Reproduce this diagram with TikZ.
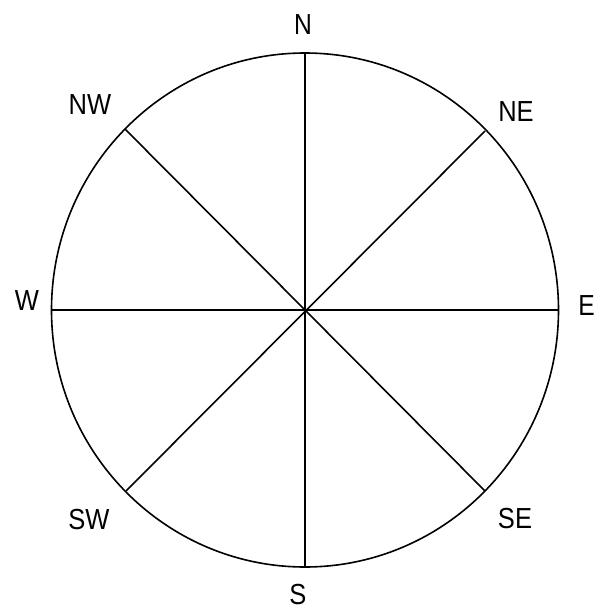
\documentclass[tikz,border=0pt]{standalone}
\usepackage{fontspec}
\setmainfont{Liberation Sans}
\begin{document}
\begin{tikzpicture}[x=1pt,y=-1pt,
  lbl/.style={inner sep=0pt,font=\fontsize{29}{31}\selectfont},
  spoke/.style={line width=1.6pt,black}]
\useasboundingbox (0,0) rectangle (596,611);
\coordinate (c) at (305,310);
\draw[spoke] (c) ellipse [x radius=253.5, y radius=257];
\coordinate (pN) at (305,53);
\coordinate (pS) at (305,567);
\coordinate (pE) at (558.5,310);
\coordinate (pW) at (51.5,310);
\coordinate (pNE) at (485,131);
\coordinate (pNW) at (125,129);
\coordinate (pSE) at (485,491);
\coordinate (pSW) at (126,491);
\draw[spoke] (pN) -- (pS);
\draw[spoke] (pE) -- (pW);
\draw[spoke] (pNE) -- (pSW);
\draw[spoke] (pNW) -- (pSE);
\node[lbl] (N) at (303,25) {\scalebox{0.85}[1]{N}};
\node[lbl] (NE) at (516,112) {\scalebox{0.88}[1]{NE}};
\node[lbl] (NW) at (90,105) {\scalebox{0.88}[1]{NW}};
\node[lbl] (W) at (27,301) {\scalebox{0.88}[1]{W}};
\node[lbl,anchor=east] (E) at (595,306) {\scalebox{0.85}[1]{E}};
\node[lbl] (S) at (298,595) {\scalebox{0.88}[1]{S}};
\node[lbl] (SW) at (89,520) {\scalebox{0.88}[1]{SW}};
\node[lbl] (SE) at (515,519) {\scalebox{0.88}[1]{SE}};
\end{tikzpicture}
\end{document}
